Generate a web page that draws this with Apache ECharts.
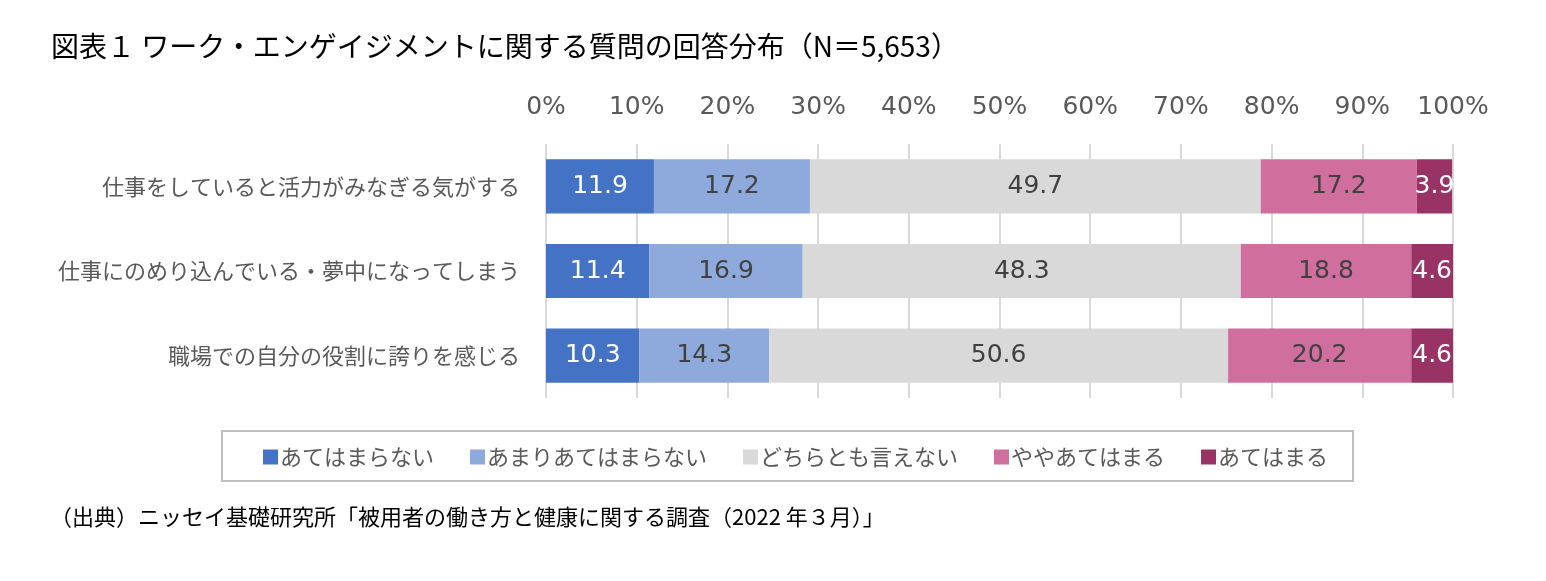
<!DOCTYPE html>
<html>
<head>
<meta charset="utf-8">
<script src="https://cdn.jsdelivr.net/npm/echarts@6/dist/echarts.min.js"></script>
<style>
  html, body { margin: 0; padding: 0; background: #fff; }
  #chart { width: 1546px; height: 581px; }
</style>
</head>
<body>
<div id="chart"></div>
<script>
// 質問項目（上から順）
const questions = [
  '仕事をしていると活力がみなぎる気がする',
  '仕事にのめり込んでいる・夢中になってしまう',
  '職場での自分の役割に誇りを感じる'
]
const seriesNames = ['あてはまらない', 'あまりあてはまらない', 'どちらとも言えない', 'ややあてはまる', 'あてはまる']
// 回答分布（%）
const notApply = [11.9, 11.4, 10.3]
const ratherNot = [17.2, 16.9, 14.3]
const neither = [49.7, 48.3, 50.6]
const somewhat = [17.2, 18.8, 20.2]
const apply = [3.9, 4.6, 4.6]
const tickLabels = ['0%', '10%', '20%', '30%', '40%', '50%', '60%', '70%', '80%', '90%', '100%']

const colors = ['#4472C4', '#8EA9DB', '#D9D9D9', '#D06E9E', '#993366']
const labelColors = ['#ffffff', '#404040', '#404040', '#404040', '#ffffff']
const allData = [notApply, ratherNot, neither, somewhat, apply]

let myChart = echarts.init(document.getElementById('chart'))

let series = []
for (let i = 0; i < seriesNames.length; i++) {
  series.push({
    name: seriesNames[i],
    type: 'bar',
    stack: 'total',
    barWidth: '64%',
    itemStyle: { color: colors[i] },
    label: {
      show: true,
      position: 'inside',
      color: labelColors[i],
      fontFamily: 'DejaVu Sans',
      fontSize: 25,
      formatter: function (p) {
        return p.value.toFixed(1)
      }
    },
    data: allData[i]
  })
}

let option = {
  animation: false,
  textStyle: { fontFamily: '"Noto Sans CJK JP", sans-serif' },
  title: {
    text: '図表１ ワーク・エンゲイジメントに関する質問の回答分布（N＝5,653）',
    left: 46,
    top: 27,
    textStyle: {
      fontFamily: '"Noto Sans CJK JP"',
      fontSize: 28,
      fontWeight: 'normal',
      color: '#000'
    }
  },
  grid: {
    left: 546,
    right: 93,
    top: 144,
    bottom: 183
  },
  xAxis: {
    type: 'value',
    position: 'top',
    min: 0,
    max: 100,
    interval: 10,
    axisLine: { show: false },
    axisTick: { show: false },
    splitLine: { show: true, lineStyle: { color: '#D9D9D9', width: 2 } },
    axisLabel: {
      margin: 24,
      color: '#595959',
      fontFamily: 'DejaVu Sans',
      fontSize: 25,
      formatter: function (v) {
        return tickLabels[Math.round(v / 10)]
      }
    }
  },
  yAxis: {
    type: 'category',
    inverse: true,
    data: questions,
    axisLine: { show: false },
    axisTick: { show: false },
    axisLabel: {
      margin: 26,
      color: '#595959',
      fontFamily: '"Noto Sans CJK JP"',
      fontSize: 22
    }
  },
  legend: {
    data: seriesNames,
    left: 258,
    top: 441,
    icon: 'rect',
    itemWidth: 15,
    itemHeight: 15,
    itemGap: 36,
    textStyle: {
      color: '#595959',
      fontFamily: '"Noto Sans CJK JP"',
      fontSize: 22,
      padding: [0, 0, 0, -3]
    }
  },
  graphic: [
    {
      type: 'rect',
      shape: { x: 222, y: 431, width: 1131, height: 50 },
      style: { fill: 'none', stroke: '#BFBFBF', lineWidth: 2 },
      silent: true
    },
    {
      type: 'text',
      left: 50,
      top: 506,
      style: {
        text: '（出典）ニッセイ基礎研究所「被用者の働き方と健康に関する調査（2022 年３月）」',
        fontFamily: '"Noto Sans CJK JP"',
        fontSize: 22,
        fill: '#000'
      }
    }
  ],
  series: series
}
myChart.setOption(option)
</script>
</body>
</html>
